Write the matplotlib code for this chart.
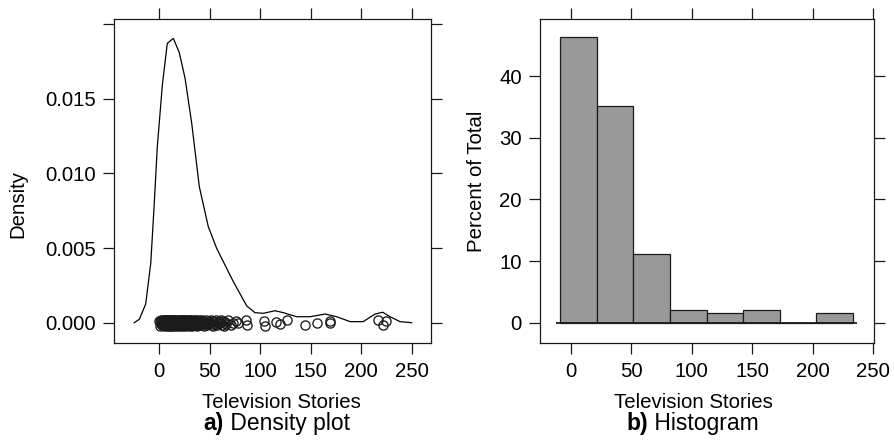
import matplotlib
matplotlib.use("Agg")
import matplotlib.pyplot as plt
import numpy as np

plt.rcParams["font.family"] = ["Liberation Sans", "DejaVu Sans"]

# Number of television stories per case
stories = [
    0, 1, 1, 2, 2, 3, 3, 3, 4, 4, 4, 5, 5, 5, 5, 6, 6, 6, 6, 7, 7, 7, 7,
    8, 8, 8, 8, 8, 9, 9, 9, 9, 9, 10, 10, 10, 10, 10, 11, 11, 11, 11, 11,
    12, 12, 12, 12, 12, 13, 13, 13, 13, 13, 14, 14, 14, 14, 14,
    15, 15, 15, 15, 15, 16, 16, 16, 16, 17, 17, 17, 17, 18, 18, 18, 18,
    19, 19, 19, 19, 20, 20, 20, 20, 21, 21, 21, 21,
    22, 22, 22, 22, 23, 23, 23, 23, 24, 24, 24, 25, 25, 25, 25, 26, 26, 26,
    27, 27, 27, 28, 28, 28, 29, 29, 29, 30, 30, 30, 30, 31, 31, 32, 32, 32,
    33, 33, 34, 34, 35, 35, 35, 36, 36, 37, 37, 38, 38, 39, 39, 40, 40,
    41, 42, 42, 43, 44, 45, 45, 46, 47, 48, 49, 50, 51,
    52, 53, 53, 54, 55, 56, 57, 58, 59, 60, 61, 62, 63, 64, 65, 66, 68,
    71, 73, 76, 78,
    86, 87, 104, 105, 116, 120, 126, 144, 156, 169, 169, 217, 222, 225,
]

# Kernel density estimate of the stories (x grid and density)
dens_x = [-24.8, -19.8, -13.5, -8.5, -5.2, -2.0, 3.0, 7.9, 13.9, 19.8, 25.5,
          32.1, 39.6, 48.5, 56.8, 73.3, 86.6, 94.8, 103.0, 114.6, 122.9,
          136.0, 149.3, 164.2, 175.7, 189.0, 202.0, 213.7, 221.3, 228.5,
          238.4, 250.0]
dens_y = [0.0, 0.00023, 0.00125, 0.00398, 0.00777, 0.01179, 0.01592, 0.01871,
          0.01904, 0.01808, 0.01637, 0.01335, 0.00911, 0.00643, 0.00498,
          0.00275, 0.00112, 0.00067, 0.00063, 0.0008, 0.00067, 0.0004, 0.0004,
          0.00058, 0.0004, 0.00007, 0.00007, 0.00058, 0.0007, 0.0004,
          0.00007, 0.0]

# Histogram bins and percent of total in each bin
bin_edges = [-8.9, 21.4, 51.7, 82.0, 112.3, 142.6, 172.9, 203.2, 233.5]
bin_pct = [46.3, 35.1, 11.2, 2.1, 1.6, 2.1, 0.0, 1.6]

# Small vertical offsets so overlapping points stay visible
jitter_pattern = [0.6, -0.9, 0.2, -0.4, 0.9, -0.6, 0.0, 0.4, -0.2, 0.75, -0.8]

W, H = 894, 443
fig = plt.figure(figsize=(W / 100, H / 100), dpi=100)

TICK_FS = 14.7
LABEL_FS = 14.7
CAP_FS = 16.5
LW = 0.9


def px_rect(x0, y0, x1, y1):
    return [x0 / W, 1 - y1 / H, (x1 - x0) / W, (y1 - y0) / H]


def style(ax):
    for s in ax.spines.values():
        s.set_linewidth(LW)
        s.set_color("#1a1a1a")
    ax.tick_params(direction="out", length=8, width=LW, color="#1a1a1a",
                   top=True, right=True, labeltop=False, labelright=False,
                   labelsize=TICK_FS, pad=5)
    ax.tick_params(axis="x", pad=6)


# ---- a) density plot
ax1 = fig.add_axes(px_rect(114.3, 19, 431, 342.7))
style(ax1)
ax1.plot(dens_x, dens_y, color="black", lw=LW)
n = len(stories)
jit = np.resize(np.array(jitter_pattern), n) * 0.00022
ax1.plot(stories, jit, ls="none", marker="o", ms=6.6, mfc="none",
         mec="#1a1a1a", mew=0.95)
ax1.set_xlim(-44.6, 269.1)
ax1.set_ylim(-0.00134, 0.02034)
ax1.set_xticks([0, 50, 100, 150, 200, 250])
ax1.set_yticks([0.0, 0.005, 0.010, 0.015, 0.020])
ax1.set_yticklabels(["0.000", "0.005", "0.010", "0.015", ""])

# ---- b) histogram
ax2 = fig.add_axes(px_rect(539.7, 19, 873.7, 342.7))
style(ax2)
lefts = np.array(bin_edges[:-1])
widths = np.diff(bin_edges)
ax2.bar(lefts, bin_pct, width=widths, align="edge", color="#999999",
        edgecolor="#1a1a1a", linewidth=LW)
bw = widths[0]
ax2.hlines(0, bin_edges[0] - 0.11 * bw, bin_edges[-1] + 0.12 * bw,
           color="#1a1a1a", lw=1.3)
ax2.set_xlim(-25.9, 250.6)
ax2.set_ylim(-3.25, 49.3)
ax2.set_xticks([0, 50, 100, 150, 200, 250])
ax2.set_yticks([0, 10, 20, 30, 40])

# ---- axis titles
fig.text(281.7 / W, 1 - 408.3 / H, "Television Stories", ha="center",
         va="baseline", fontsize=LABEL_FS)
fig.text(693.7 / W, 1 - 408.3 / H, "Television Stories", ha="center",
         va="baseline", fontsize=LABEL_FS)
fig.text(18 / W, 1 - 204 / H, "Density", rotation=90, ha="center",
         va="center", fontsize=LABEL_FS)
fig.text(476 / W, 1 - 181.7 / H, "Percent of Total", rotation=90,
         ha="center", va="center", fontsize=LABEL_FS)

# ---- panel captions: bold letter followed by regular text
fig.canvas.draw()
renderer = fig.canvas.get_renderer()


def caption(cx, baseline, tag, text):
    t1 = fig.text(0, 1 - baseline / H, tag, fontsize=CAP_FS,
                  fontweight="bold", va="baseline", ha="left")
    t2 = fig.text(0, 1 - baseline / H, " " + text, fontsize=CAP_FS,
                  va="baseline", ha="left")
    w1 = t1.get_window_extent(renderer).width
    w2 = t2.get_window_extent(renderer).width
    x0 = cx - (w1 + w2) / 2
    t1.set_x(x0 / W)
    t2.set_x((x0 + w1) / W)


caption(276.7, 430, "a)", "Density plot")
caption(692.8, 430, "b)", "Histogram")

fig.savefig("out.png", dpi=100)
